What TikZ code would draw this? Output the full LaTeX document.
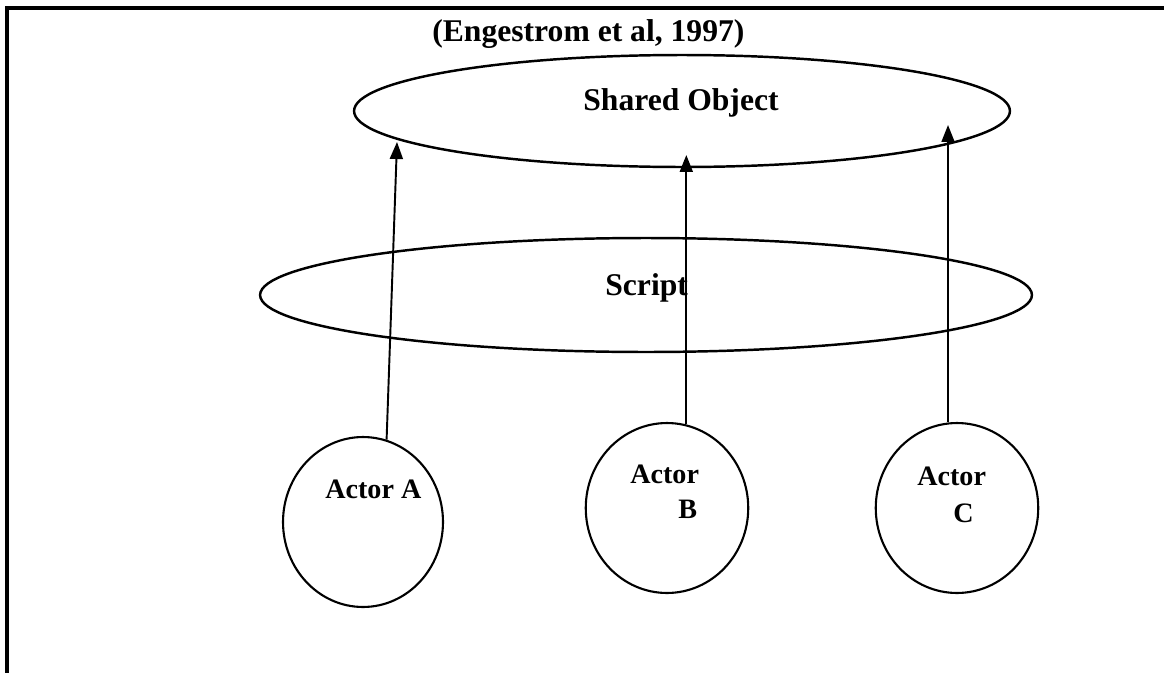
\documentclass[tikz,border=0pt]{standalone}
\usepackage{fontspec}
\setmainfont{Liberation Serif}
\usepackage{tikz}
\usetikzlibrary{positioning,shapes.geometric,arrows.meta}

\begin{document}
\begin{tikzpicture}[x=0.02cm,y=-0.02cm,font=\bfseries]
	\tikzset{ring/.style={draw,ellipse,line width=1.4pt,inner sep=0pt}}
	\tikzset{actor/.style={draw,ellipse,line width=1.2pt,inner sep=0pt,minimum width=3.25cm,minimum height=3.4cm}}
%	\tikzset{every node/.style={draw=red}}
	\tikzset{txt/.style={anchor=base west,inner sep=0pt,font=\fontsize{18}{22}\selectfont\bfseries}}
	\tikzset{atxt/.style={anchor=base west,inner sep=0pt,font=\fontsize{16}{19}\selectfont\bfseries}}
	\tikzset{arr/.style={-{Triangle[length=0.34cm,width=0.26cm]},line width=1.1pt}}

\useasboundingbox (0,0) rectangle (1164,673);
\draw[line width=2pt] (7,673) -- (7,8) -- (1164,8);

\node[txt] (cite) at (432,41) {(Engestrom et al, 1997)};

\node[ring,minimum width=13.12cm,minimum height=2.24cm] (shared) at (682,111) {};
\node[txt] (sharedtxt) at (583,110) {Shared Object};

\node[ring,minimum width=15.44cm,minimum height=2.28cm] (script) at (646,295) {};
\node[txt] (scripttxt) at (605,295) {Script};

\node[actor,minimum width=3.2cm] (actorA) at (363,522) {};
\node[actor] (actorB) at (667,508) {};
\node[actor] (actorC) at (957,508) {};

\node[atxt] (nameA) at (325,498) {Actor A};
\node[atxt] (nameB) at (630,483) {Actor};
\node[atxt] (letterB) at (678,518) {B};
\node[atxt] (nameC) at (917,485) {Actor};
\node[atxt] (letterC) at (953,522) {C};

\coordinate (tipA) at (397,142);
\coordinate (tipB) at (687,155);
\coordinate (tipC) at (948,125);

\draw[arr] (actorA.74) -- (tipA);
\draw[arr] (actorB.77) -- (actorB.77 |- tipB);
\draw[arr] (actorC.96) -- (actorC.96 |- tipC);

	\end{tikzpicture}
\end{document}
